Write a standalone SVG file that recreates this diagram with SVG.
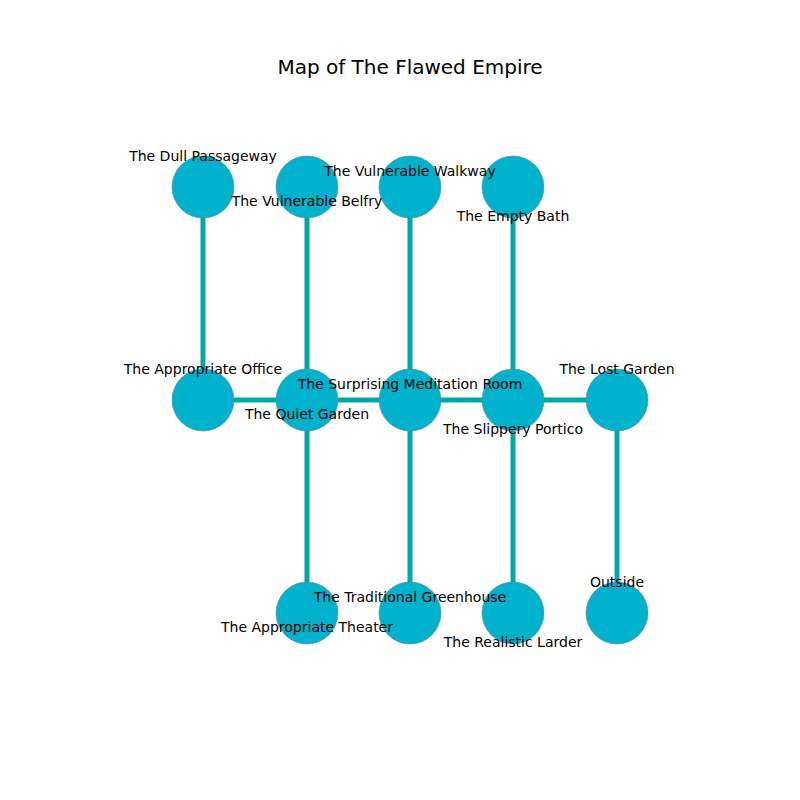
<svg xmlns="http://www.w3.org/2000/svg" width="800" height="800" viewBox="0 0 800 800">
<style>
.e{stroke:#00a8a8;stroke-width:5;fill:none}
.n{fill:#00b2cc;stroke:#5a8a90;stroke-width:0.6}
.l{font-family:"DejaVu Sans",sans-serif;font-size:14px;fill:#000;text-anchor:middle;dominant-baseline:central}
.t{font-family:"DejaVu Sans",sans-serif;font-size:20px;fill:#000;text-anchor:middle;dominant-baseline:central}
</style>
<rect width="800" height="800" fill="#fff"/>
<text class="t" x="410" y="67">Map of The Flawed Empire</text>
<g id="connectors">
<line class="e" x1="203" y1="187" x2="203" y2="400"/>
<line class="e" x1="307" y1="187" x2="307" y2="613"/>
<line class="e" x1="410" y1="187" x2="410" y2="613"/>
<line class="e" x1="513" y1="187" x2="513" y2="613"/>
<line class="e" x1="617" y1="400" x2="617" y2="613"/>
<line class="e" x1="203" y1="400" x2="617" y2="400"/>
</g>
<g id="dull"><circle class="n" cx="203" cy="187" r="31"/></g>
<g id="belfry"><circle class="n" cx="307" cy="187" r="31"/></g>
<g id="walkway"><circle class="n" cx="410" cy="187" r="31"/></g>
<g id="bath"><circle class="n" cx="513" cy="187" r="31"/></g>
<g id="office"><circle class="n" cx="203" cy="400" r="31"/></g>
<g id="quiet"><circle class="n" cx="307" cy="400" r="31"/></g>
<g id="meditation"><circle class="n" cx="410" cy="400" r="31"/></g>
<g id="portico"><circle class="n" cx="513" cy="400" r="31"/></g>
<g id="lost"><circle class="n" cx="617" cy="400" r="31"/></g>
<g id="theater"><circle class="n" cx="307" cy="613" r="31"/></g>
<g id="greenhouse"><circle class="n" cx="410" cy="613" r="31"/></g>
<g id="larder"><circle class="n" cx="513" cy="613" r="31"/></g>
<g id="outside"><circle class="n" cx="617" cy="613" r="31"/></g>
<g id="labels">
<text class="l" x="203" y="156">The Dull Passageway</text>
<text class="l" x="307" y="201">The Vulnerable Belfry</text>
<text class="l" x="410" y="171">The Vulnerable Walkway</text>
<text class="l" x="513" y="216">The Empty Bath</text>
<text class="l" x="203" y="369">The Appropriate Office</text>
<text class="l" x="307" y="414">The Quiet Garden</text>
<text class="l" x="410" y="384">The Surprising Meditation Room</text>
<text class="l" x="513" y="429">The Slippery Portico</text>
<text class="l" x="617" y="369">The Lost Garden</text>
<text class="l" x="410" y="597">The Traditional Greenhouse</text>
<text class="l" x="307" y="627">The Appropriate Theater</text>
<text class="l" x="513" y="642">The Realistic Larder</text>
<text class="l" x="617" y="582">Outside</text>
</g>
</svg>
